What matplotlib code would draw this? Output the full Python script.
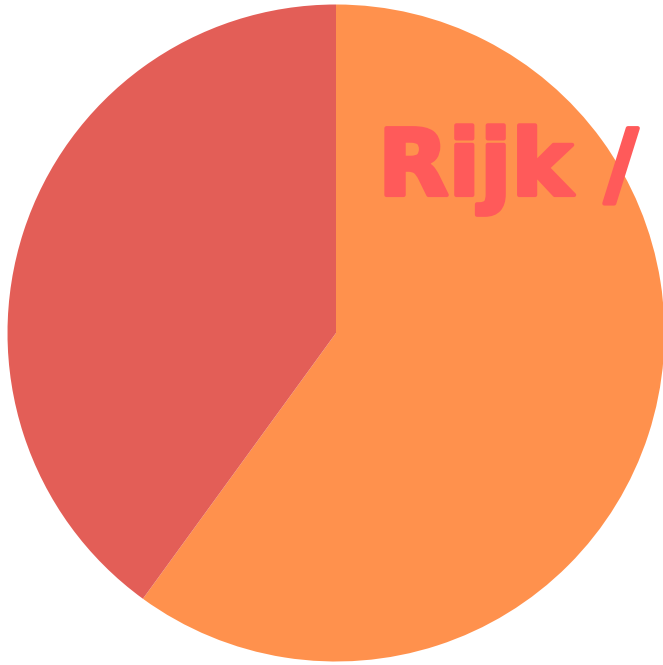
import matplotlib.pyplot as plt
import matplotlib.patheffects as pe

# slice data (clockwise from 12 o'clock)
labels = ["Rijk", "Overig"]
values = [60, 40]
colors = ["#FF914D", "#E35E57"]
title_text = "Rijk /"

fig = plt.figure(figsize=(6.63, 6.65), dpi=100)
ax = fig.add_axes([0, 0, 1, 1])
ax.pie(values, colors=colors, startangle=90, counterclock=False,
       wedgeprops=dict(linewidth=0))
ax.set_aspect("equal")
r = 328.5
ax.set_xlim(-336 / r, (663 - 336) / r)
ax.set_ylim(-(665 - 333) / r, 333 / r)
ax.axis("off")

# heavy label over the orange slice (stroke makes it look blacker)
fig.text(378 / 663, 1 - 195 / 665, title_text, fontsize=66,
         fontfamily="DejaVu Sans", fontweight="bold", color="#FF5A5A",
         va="baseline", ha="left",
         path_effects=[pe.withStroke(linewidth=3, foreground="#FF5A5A")])

fig.savefig("out.png", dpi=100)
